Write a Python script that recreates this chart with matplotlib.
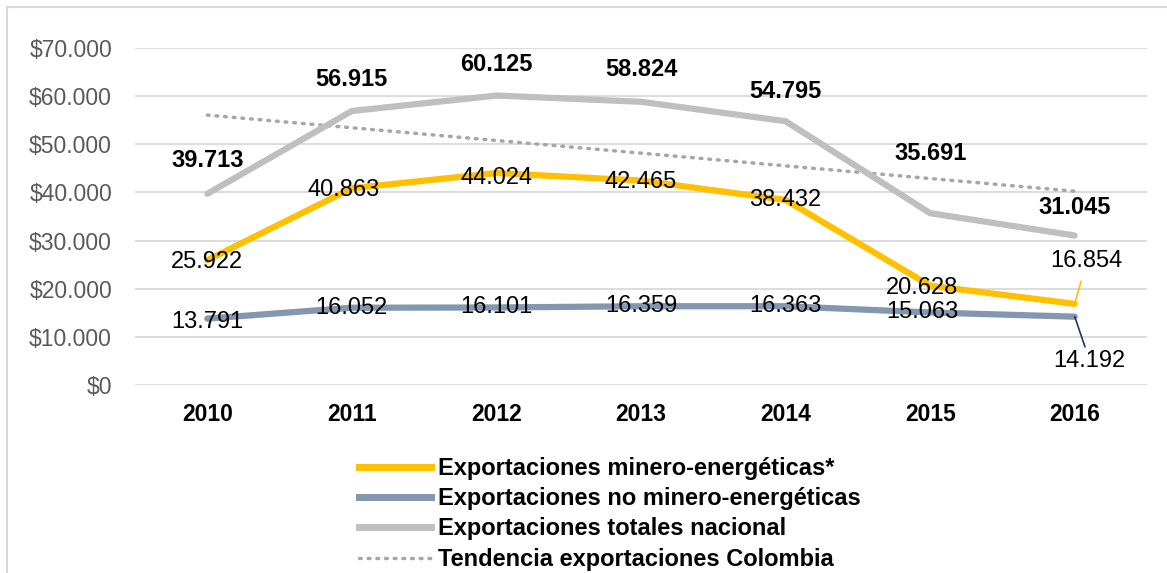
import matplotlib
matplotlib.use('Agg')
import matplotlib.pyplot as plt
from matplotlib.lines import Line2D

plt.rcParams['font.family'] = ['Liberation Sans', 'DejaVu Sans']

years = ['2010', '2011', '2012', '2013', '2014', '2015', '2016']
minero = [25922, 40863, 44024, 42465, 38432, 20628, 16854]
no_minero = [13791, 16052, 16101, 16359, 16363, 15063, 14192]
totales = [39713, 56915, 60125, 58824, 54795, 35691, 31045]
tendencia = [56060, 53430, 50790, 48160, 45520, 42890, 40250]

ytick_vals = [0, 10000, 20000, 30000, 40000, 50000, 60000, 70000]
ytick_labels = ['$0', '$10.000', '$20.000', '$30.000', '$40.000', '$50.000', '$60.000', '$70.000']

names = ['Exportaciones minero-energéticas*',
         'Exportaciones no minero-energéticas',
         'Exportaciones totales nacional',
         'Tendencia exportaciones Colombia']

c_min = '#FFC000'
c_nomin = '#8497B0'
c_tot = '#BFBFBF'
c_trend = '#A6A6A6'

def fmt(v):
    return f'{v:,}'.replace(',', '.')

fs = 17

fig = plt.figure(figsize=(11.67, 5.73), dpi=100)
ax = fig.add_axes([135 / 1167, (573 - 385) / 573, 1012 / 1167, 337 / 573])

x = list(range(len(years)))
dots = (0, (0.5, 2.0))
ax.plot(x, tendencia, color=c_trend, lw=2.5, ls=dots, dash_capstyle='round', zorder=2)
ax.plot(x, totales, color=c_tot, lw=4.5, solid_capstyle='round', zorder=3)
ax.plot(x, minero, color=c_min, lw=4.5, solid_capstyle='round', zorder=3)
ax.plot(x, no_minero, color=c_nomin, lw=4.5, solid_capstyle='round', zorder=3)

ax.set_xlim(-0.5, 6.5)
ax.set_ylim(0, 70000)
ax.set_yticks(ytick_vals)
ax.set_yticklabels(ytick_labels, color='#595959', fontsize=16.5)
ax.set_xticks(x)
ax.set_xticklabels(years, fontweight='bold', fontsize=16.5)
ax.tick_params(length=0)
ax.tick_params(axis='y', pad=16.5)
ax.tick_params(axis='x', pad=13)
ax.grid(axis='y', color='#D9D9D9', lw=1.3)
ax.set_axisbelow(True)
for s in ax.spines.values():
    s.set_visible(False)

# etiquetas totales (negrita, arriba)
tot_off = [33, 31, 31, 32, 30, 60, 28]
for i, v in enumerate(totales):
    ax.annotate(fmt(v), (i, v), xytext=(0, tot_off[i]), textcoords='offset pixels',
                ha='center', va='center', fontsize=fs, fontweight='bold', zorder=5,
                annotation_clip=False)

# etiquetas minero-energeticas
min_dx = [0, -8, 0, 0, 0, -8, 12]
min_dy = [-2, -2, -5, -1, 0, -2, 43]
for i, v in enumerate(minero):
    if i == 6:
        ax.annotate(fmt(v), (i, v), xytext=(min_dx[i], min_dy[i]), textcoords='offset pixels',
                    ha='center', va='center', fontsize=fs, zorder=5,
                    arrowprops=dict(arrowstyle='-', color=c_min, lw=1.2, shrinkA=5, shrinkB=0))
    else:
        ax.annotate(fmt(v), (i, v), xytext=(min_dx[i], min_dy[i]), textcoords='offset pixels',
                    ha='center', va='center', fontsize=fs, zorder=5)

# etiquetas no minero-energeticas
nom_dx = [0, 0, 0, 0, 0, -8, 15]
nom_dy = [-3, 0, 0, 0, 0, 0, -44]
for i, v in enumerate(no_minero):
    if i == 6:
        ax.annotate(fmt(v), (i, v), xytext=(nom_dx[i], nom_dy[i]), textcoords='offset pixels',
                    ha='center', va='center', fontsize=fs, zorder=5, annotation_clip=False,
                    arrowprops=dict(arrowstyle='-', color='#1F3864', lw=1.2, shrinkA=0, shrinkB=0))
    else:
        ax.annotate(fmt(v), (i, v), xytext=(nom_dx[i], nom_dy[i]), textcoords='offset pixels',
                    ha='center', va='center', fontsize=fs, zorder=5)

handles = [Line2D([], [], color=c_min, lw=5),
           Line2D([], [], color=c_nomin, lw=5),
           Line2D([], [], color=c_tot, lw=5),
           Line2D([], [], color=c_trend, lw=2.5, ls=dots, dash_capstyle='round')]
leg = fig.legend(handles, names, loc='upper left', bbox_to_anchor=(347 / 1167, 1 - 445 / 573),
                 frameon=False, borderpad=0, handlelength=3.05, handletextpad=0.3,
                 labelspacing=0.31, prop={'weight': 'bold', 'size': fs})

# marco exterior
fig.add_artist(Line2D([7 / 1167, 1], [1 - 7 / 573, 1 - 7 / 573], transform=fig.transFigure,
                      color='#D9D9D9', lw=1.5))
fig.add_artist(Line2D([7 / 1167, 7 / 1167], [0, 1 - 7 / 573], transform=fig.transFigure,
                      color='#D9D9D9', lw=1.5))

fig.savefig('out.png', dpi=100)
